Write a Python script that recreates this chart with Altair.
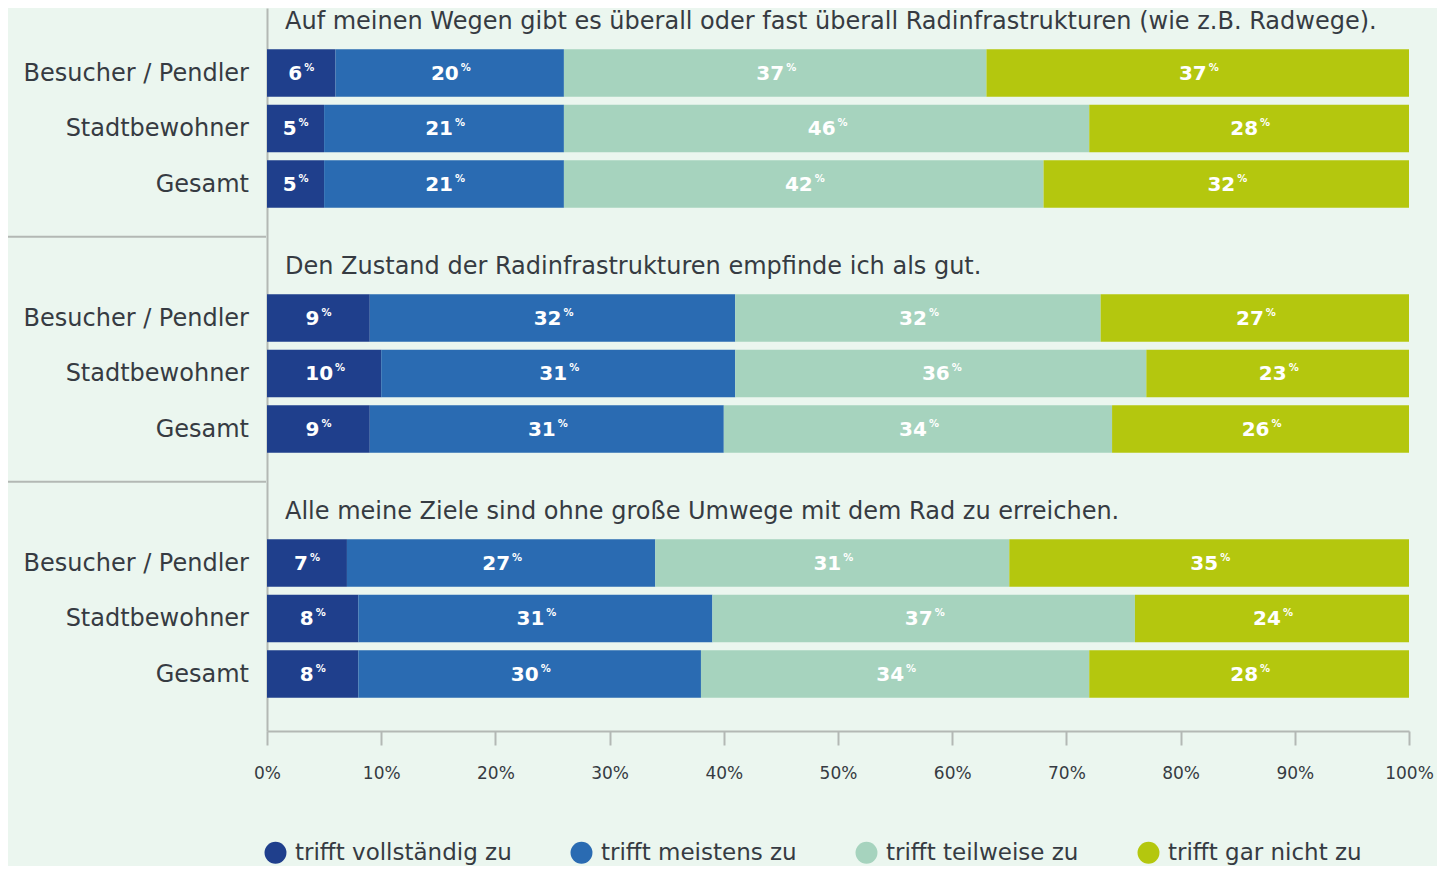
import altair as alt
import pandas as pd

statements = [
    "Auf meinen Wegen gibt es überall oder fast überall Radinfrastrukturen (wie z.B. Radwege).",
    "Den Zustand der Radinfrastrukturen empfinde ich als gut.",
    "Alle meine Ziele sind ohne große Umwege mit dem Rad zu erreichen.",
]
groups = ["Besucher / Pendler", "Stadtbewohner", "Gesamt"]
responses = ["trifft vollständig zu", "trifft meistens zu", "trifft teilweise zu", "trifft gar nicht zu"]
colors = ["#1f3f8c", "#2a6bb2", "#a6d3be", "#b4c70e"]

# values[statement][group] = [vollständig, meistens, teilweise, gar nicht]
values = [
    [[6, 20, 37, 37], [5, 21, 46, 28], [5, 21, 42, 32]],
    [[9, 32, 32, 27], [10, 31, 36, 23], [9, 31, 34, 26]],
    [[7, 27, 31, 35], [8, 31, 37, 24], [8, 30, 34, 28]],
]
tick_values = [0, 10, 20, 30, 40, 50, 60, 70, 80, 90, 100]

rows = []
for si, s in enumerate(statements):
    for gi, g in enumerate(groups):
        for ri, r in enumerate(responses):
            rows.append({"statement": s, "group": g, "response": r, "rank": ri,
                         "value": values[si][gi][ri]})
df = pd.DataFrame(rows)
titles_df = pd.DataFrame({"statement": statements, "group": groups[0]})
labels_df = pd.DataFrame([{"statement": s, "group": g} for s in statements for g in groups])
sep_df = pd.DataFrame({"statement": statements[:2]})

FONT = "DejaVu Sans"
TEXT = "#363b42"
GRAY = "#b3b8b4"

y_scale = alt.Scale(domain=statements, paddingInner=0.3204, paddingOuter=0.1357, align=0.56)
off_scale = alt.Scale(domain=groups, paddingInner=0.144, paddingOuter=0.072)
x_scale = alt.Scale(domain=[0, 100], nice=False, zero=True)

Y = alt.Y("statement:N", scale=y_scale, sort=statements,
          axis=alt.Axis(title=None, labels=False, ticks=False, domain=True,
                        domainColor=GRAY, domainWidth=2))
YOFF = alt.YOffset("group:N", scale=off_scale, sort=groups)

base = alt.Chart(df).transform_stack(
    stack="value", groupby=["statement", "group"], as_=["x0", "x1"],
    sort=[alt.SortField("rank", order="ascending")]
).transform_calculate(mid="(datum.x0 + datum.x1) / 2")

bars = base.mark_bar().encode(
    x=alt.X("x0:Q", scale=x_scale,
            axis=alt.Axis(title=None, values=tick_values, labelExpr="datum.value + '%'",
                          grid=False, domainColor=GRAY, domainWidth=2, tickColor=GRAY,
                          tickWidth=2, tickSize=14, labelPadding=20, labelFontSize=17,
                          labelFont=FONT, labelColor=TEXT, labelFlush=False)),
    x2="x1:Q",
    y=Y,
    yOffset=YOFF,
    color=alt.Color("response:N", scale=alt.Scale(domain=responses, range=colors),
                    sort=responses,
                    legend=alt.Legend(title=None, orient="none", direction="horizontal",
                                      legendX=-3, legendY=833, symbolType="circle",
                                      symbolSize=480, symbolStrokeWidth=0, labelFontSize=23,
                                      labelFont=FONT, labelColor=TEXT, labelOffset=8,
                                      columnPadding=58, symbolOpacity=1, labelLimit=400)),
)


def num_layer(cond, dx):
    return base.transform_filter(cond).mark_text(
        font=FONT, fontWeight="bold", fontSize=20, color="white", align="right",
        baseline="middle", dx=dx, dy=1
    ).encode(x=alt.X("mid:Q", scale=x_scale), y=Y, yOffset=YOFF, text="value:Q")


def pct_layer(cond, dx):
    return base.transform_filter(cond).transform_calculate(p="'%'").mark_text(
        font=FONT, fontWeight="bold", fontSize=10, color="white", align="left",
        baseline="middle", dx=dx, dy=-5
    ).encode(x=alt.X("mid:Q", scale=x_scale), y=Y, yOffset=YOFF, text="p:N")


lab1 = num_layer("datum.value < 10", 1)
lab2 = num_layer("datum.value >= 10", 9)
pc1 = pct_layer("datum.value < 10", 3)
pc2 = pct_layer("datum.value >= 10", 11)

titles = alt.Chart(titles_df).mark_text(
    font=FONT, fontSize=24, color=TEXT, align="left", baseline="middle", dy=-51,
    limit=1200
).encode(x=alt.value(18), y=Y, yOffset=YOFF, text="statement:N")

cat_labels = alt.Chart(labels_df).mark_text(
    font=FONT, fontSize=24, color=TEXT, align="right", baseline="middle", dy=1
).encode(x=alt.value(-18), y=Y, yOffset=YOFF, text="group:N")

seps = alt.Chart(sep_df).mark_rule(color=GRAY, strokeWidth=2, yOffset=25).encode(
    x=alt.value(-267), x2=alt.value(-1),
    y=alt.Y("statement:N", scale=y_scale, sort=statements, bandPosition=1),
)

chart = alt.layer(bars, lab1, lab2, pc1, pc2, titles, cat_labels, seps).properties(
    width=1142, height=723,
    autosize=alt.AutoSizeParams(type="none"),
    padding={"left": 259, "top": 0, "right": 28, "bottom": 135},
    background="#ebf6ef",
).configure_view(stroke=None)

chart.save("out.html", embed_options={"renderer": "svg", "actions": False})
